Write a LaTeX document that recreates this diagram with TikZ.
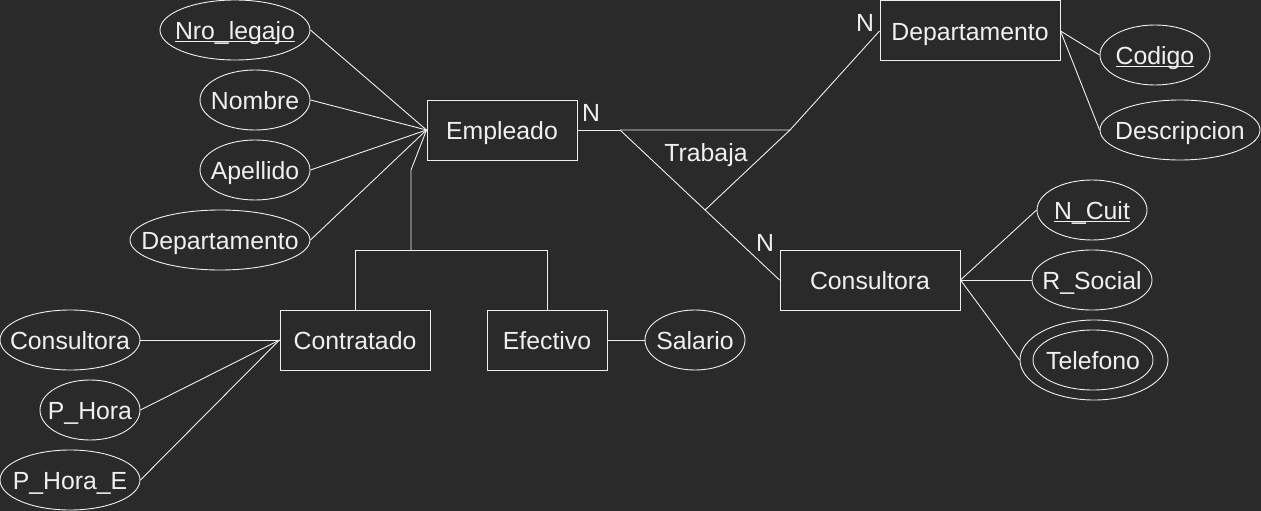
\documentclass[tikz,border=0pt]{standalone}
\usepackage{fontspec}
\setmainfont{Liberation Sans}
\usetikzlibrary{shapes.geometric}
\definecolor{bg}{HTML}{2A2A2A}
\definecolor{fg}{HTML}{F0F0F0}
\newcommand\keyattr[1]{\underline{\smash{#1}}}
\begin{document}
\begin{tikzpicture}[x=1pt,y=-1pt,
  every node/.style={font=\fontsize{24.8}{29}\selectfont, text=fg, text height=19.5pt, text depth=0pt, inner sep=0pt},
  entbox/.style={draw=fg, line width=1pt, minimum height=60pt},
  attr/.style={ellipse, draw=fg, line width=0.9pt, minimum height=60pt},
  conn/.style={draw=fg, line width=0.9pt}
]
\useasboundingbox[fill=bg] (0,0) rectangle (1261,511);

% entities
\node[entbox, minimum width=150pt] (emp) at (502,130) {Empleado};
\node[entbox, minimum width=180pt] (dep) at (970,31) {Departamento};
\node[entbox, minimum width=180pt] (cons) at (870,280) {Consultora};
\node[entbox, minimum width=150pt] (contr) at (355,340) {Contratado};
\node[entbox, minimum width=120pt] (efec) at (547,340) {Efectivo};

% attributes of Empleado
\node[attr, minimum width=150pt] (a1) at (235,30) {\makebox[0pt]{\keyattr{Nro\_legajo}}};
\node[attr, minimum width=110pt] (a2) at (255,100) {\makebox[0pt]{Nombre}};
\node[attr, minimum width=110pt] (a3) at (255,170) {\makebox[0pt]{Apellido}};
\node[attr, minimum width=180pt] (a4) at (220,240) {\makebox[0pt]{Departamento}};

% attributes of Contratado
\node[attr, minimum width=140pt] (b1) at (70,340) {\makebox[0pt]{Consultora}};
\node[attr, minimum width=100pt] (b2) at (90,410) {\makebox[0pt]{P\_Hora}};
\node[attr, minimum width=140pt] (b3) at (70,480) {\makebox[0pt]{P\_Hora\_E}};

% attribute of Efectivo
\node[attr, minimum width=100pt] (sal) at (695,340) {\makebox[0pt]{Salario}};

% attributes of Departamento
\node[attr, minimum width=110pt] (cod) at (1155,55) {\makebox[0pt]{\keyattr{Codigo}}};
\node[attr, minimum width=160pt] (desc) at (1180,130) {\makebox[0pt]{Descripcion}};

% attributes of Consultora
\node[attr, minimum width=110pt] (cuit) at (1092,210) {\makebox[0pt]{\keyattr{N\_Cuit}}};
\node[attr, minimum width=120pt] (rsoc) at (1092,280) {\makebox[0pt]{R\_Social}};
\node[attr, minimum width=148pt, minimum height=80pt] (telo) at (1094,360) {};
\node[attr, minimum width=120pt] (tel) at (1093,360) {\makebox[0pt]{Telefono}};

% relationship Trabaja
\coordinate (t1) at (620,130);
\coordinate (t2) at (790,130);
\coordinate (t3) at (705,210);
\draw[conn] (t1) -- (t2) -- (t3);
\node (trab) at (706,152) {Trabaja};

% connectors
\draw[conn] (a1.east) -- (emp.west);
\draw[conn] (a2.east) -- (emp.west);
\draw[conn] (a3.east) -- (emp.west);
\draw[conn] (a4.east) -- (emp.west);

\draw[conn] (b1.east) -- (contr.west);
\draw[conn] (b2.east) -- (contr.west);
\draw[conn] (b3.east) -- (contr.west);

\draw[conn] (efec.east) -- (sal.west);

\draw[conn] (dep.east) -- (cod.west);
\draw[conn] (dep.east) -- (desc.west);

\draw[conn] (cons.east) -- (cuit.west);
\draw[conn] (cons.east) -- (rsoc.west);
\draw[conn] (cons.east) -- (telo.west);

\draw[conn] (emp.east) -- (t1);
\draw[conn] (t1) -- (cons.west);
\draw[conn] (t2) -- (dep.west);

% specialization
\coordinate (k) at (411,170);
\coordinate (h) at (411,250);
\draw[conn] (emp.west) -- (k) -- (h);
\draw[conn] (contr.north) -- (contr.north |- h) -- (efec.north |- h) -- (efec.north);

% cardinalities
\node (n1) at (591,112) {N};
\node (n2) at (865,22) {N};
\node (n3) at (765,242) {N};
\end{tikzpicture}
\end{document}
